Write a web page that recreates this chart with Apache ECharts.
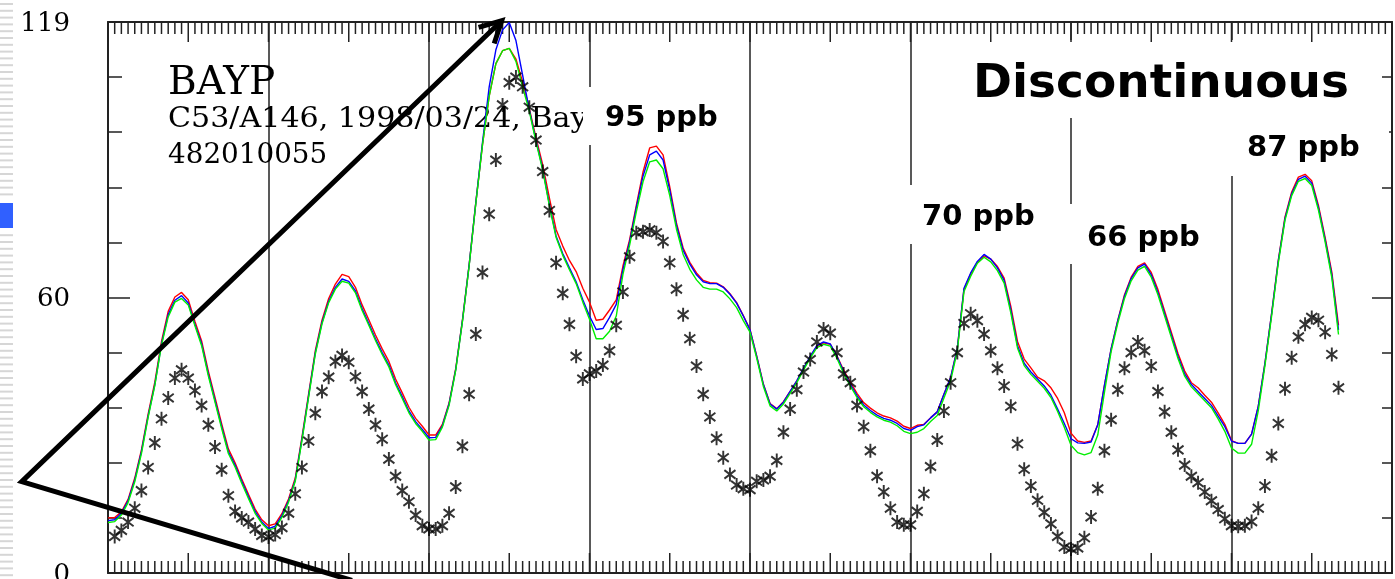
<!DOCTYPE html>
<html>
<head>
<meta charset="utf-8">
<title>BAYP ozone</title>
<script src="https://cdn.jsdelivr.net/npm/echarts@6/dist/echarts.min.js"></script>
<style>
  html, body { margin: 0; padding: 0; background: #fff; }
  #chart { width: 1395px; height: 579px; }
</style>
</head>
<body>
<div id="chart"></div>
<script>
// hourly ozone, hour 0 .. 184 of an 8-day (192 h) window
var obs = [
  null, 7.9, 9.2, 11.0, 14.0, 17.8, 22.8, 28.1, 33.3, 37.8, 42.1, 43.9, 42.1, 39.4, 36.2, 32.0, 27.2, 22.3, 16.7, 13.3, 11.9, 11.0, 9.5, 8.1,
  7.8, 8.3, 9.8, 12.9, 17.1, 22.8, 28.5, 34.5, 39.2, 42.3, 45.7, 47.0, 45.5, 42.4, 39.2, 35.4, 32.0, 28.9, 24.6, 20.9, 17.8, 15.4, 12.5, 10.2,
  9.5, 9.5, 10.2, 12.9, 18.6, 27.4, 38.6, 51.6, 64.9, 77.5, 89.2, 101.1, 105.9, 107.1, 105.0, 100.6, 93.5, 86.7, 78.3, 67.0, 60.4, 53.7, 46.8, 41.9,
  43.0, 43.6, 44.9, 48.0, 53.5, 60.7, 68.3, 73.5, 73.7, 74.1, 73.5, 71.6, 67.0, 61.3, 55.8, 50.6, 44.7, 38.6, 33.7, 29.1, 24.9, 21.3, 19.0, 18.2,
  18.0, 19.8, 20.1, 20.9, 24.3, 30.4, 35.4, 39.6, 43.4, 46.1, 49.9, 52.7, 51.8, 47.6, 43.0, 41.1, 36.2, 31.6, 26.4, 20.9, 17.5, 14.0, 11.0, 10.4,
  10.4, 13.3, 17.1, 23.0, 28.7, 35.0, 41.1, 47.6, 53.9, 56.0, 54.5, 51.6, 48.0, 44.2, 40.4, 36.0, 27.9, 22.4, 18.8, 15.7, 13.1, 10.6, 7.9, 5.6,
  5.2, 5.4, 7.6, 12.1, 18.2, 26.4, 33.1, 39.6, 44.2, 47.6, 49.9, 48.0, 44.7, 39.2, 34.8, 30.4, 26.6, 23.3, 20.9, 19.5, 17.5, 15.6, 13.7, 11.7,
  10.2, 10.1, 10.2, 11.1, 14.0, 18.8, 25.3, 32.3, 39.8, 46.5, 51.0, 53.7, 55.2, 54.6, 52.0, 47.2, 40.0
];

var modelRed = [
  11.9, 12.0, 13.2, 15.9, 20.5, 26.6, 34.3, 41.2, 50.0, 56.5, 59.6, 60.6, 59.0, 54.3, 50.1, 43.6, 37.9, 32.2, 26.8, 23.8, 20.3, 17.0, 13.8, 11.5,
  10.2, 10.6, 12.8, 16.0, 20.5, 29.3, 38.7, 48.0, 54.6, 59.3, 62.4, 64.5, 64.0, 61.7, 57.9, 54.7, 51.4, 48.4, 45.7, 41.9, 38.9, 35.8, 33.4, 31.7,
  29.8, 29.8, 32.1, 36.7, 44.2, 54.6, 66.5, 80.0, 92.5, 103.0, 110.0, 112.8, 113.3, 111.0, 106.0, 100.3, 94.0, 88.2, 81.0, 74.2, 70.6, 67.5, 65.1, 61.5,
  58.5, 54.6, 54.8, 56.8, 59.0, 66.3, 72.0, 79.4, 86.6, 91.8, 92.2, 90.3, 83.4, 75.6, 70.2, 67.1, 64.8, 63.2, 62.7, 62.6, 61.8, 60.3, 58.4, 55.6,
  52.6, 46.9, 40.8, 36.6, 35.5, 37.0, 39.2, 41.5, 44.1, 46.7, 49.0, 49.7, 49.4, 46.9, 43.8, 41.2, 38.8, 36.8, 35.6, 34.6, 33.9, 33.5, 32.8, 31.7,
  31.2, 31.9, 32.1, 33.5, 34.8, 38.6, 42.2, 48.5, 61.3, 64.6, 67.1, 68.5, 67.8, 66.2, 63.7, 57.6, 50.0, 46.2, 44.3, 42.3, 41.5, 40.0, 37.7, 34.6,
  30.2, 28.5, 28.2, 28.5, 32.0, 40.5, 48.4, 54.6, 60.1, 63.9, 66.2, 67.0, 64.9, 61.2, 56.6, 52.0, 47.4, 43.6, 41.1, 40.0, 38.4, 36.9, 34.6, 32.1,
  28.6, 28.0, 28.0, 30.0, 36.0, 45.3, 56.1, 67.6, 76.9, 82.3, 85.5, 86.1, 84.7, 79.4, 72.5, 65.0, 53.5
];

var modelBlue = [
  11.3, 11.5, 12.9, 15.6, 20.1, 26.2, 33.9, 40.7, 49.5, 55.8, 58.9, 59.9, 58.3, 53.7, 49.5, 43.0, 37.3, 31.6, 26.2, 23.3, 19.8, 16.5, 13.3, 11.0,
  9.6, 10.1, 12.4, 15.6, 20.1, 28.9, 38.3, 47.6, 54.1, 58.7, 61.7, 63.5, 63.0, 60.9, 57.1, 53.9, 50.6, 47.6, 44.9, 41.1, 38.1, 35.0, 32.7, 31.0,
  29.2, 29.3, 31.8, 36.5, 44.0, 54.5, 66.5, 80.0, 93.0, 105.0, 113.0, 117.3, 118.9, 115.0, 107.5, 100.0, 93.4, 87.3, 79.6, 72.8, 69.0, 65.9, 62.9, 59.0,
  55.5, 52.6, 52.8, 55.2, 58.0, 65.5, 71.5, 78.9, 85.7, 90.3, 91.1, 89.2, 82.7, 75.1, 69.7, 66.7, 64.4, 62.9, 62.5, 62.5, 61.7, 60.2, 58.3, 55.5,
  52.5, 46.8, 40.7, 36.5, 35.4, 36.9, 39.2, 41.5, 44.2, 46.8, 49.1, 49.9, 49.5, 46.8, 43.5, 40.8, 38.3, 36.3, 35.1, 34.1, 33.4, 33.0, 32.3, 31.2,
  30.8, 31.6, 32.0, 33.5, 34.8, 38.6, 42.2, 48.5, 61.5, 64.8, 67.3, 68.8, 67.8, 65.9, 63.2, 56.8, 49.1, 45.3, 43.4, 41.9, 40.4, 38.4, 35.4, 32.3,
  29.0, 28.1, 28.0, 28.3, 32.0, 40.5, 48.4, 54.5, 59.8, 63.6, 65.9, 66.7, 64.4, 60.6, 56.0, 51.4, 46.8, 43.0, 40.7, 39.2, 37.7, 36.2, 33.9, 31.6,
  28.5, 28.0, 28.0, 30.0, 36.0, 45.3, 56.0, 67.4, 76.6, 81.9, 85.0, 85.7, 84.2, 78.9, 72.0, 64.4, 52.5
];

var modelGreen = [
  10.9, 11.1, 12.5, 15.2, 19.7, 25.8, 33.6, 40.5, 49.2, 55.3, 58.5, 59.3, 57.9, 53.4, 49.1, 42.6, 36.9, 31.2, 25.8, 22.9, 19.4, 16.1, 12.9, 10.7,
  9.3, 9.7, 12.0, 15.3, 19.8, 28.6, 38.0, 47.3, 53.8, 58.4, 61.3, 63.0, 62.6, 60.5, 56.7, 53.5, 50.2, 47.2, 44.5, 40.7, 37.7, 34.6, 32.3, 30.6,
  28.7, 28.8, 31.5, 36.2, 43.8, 54.3, 66.3, 79.8, 92.5, 103.0, 110.0, 112.8, 113.3, 110.5, 105.0, 99.7, 93.1, 87.0, 79.3, 72.5, 68.6, 65.5, 62.5, 58.5,
  54.8, 50.6, 50.6, 52.2, 55.5, 64.5, 70.8, 78.0, 84.5, 88.8, 89.2, 87.3, 81.5, 74.3, 68.8, 65.6, 63.3, 61.7, 61.3, 61.3, 60.7, 59.2, 57.3, 54.5,
  52.0, 46.4, 40.3, 36.1, 35.0, 36.5, 38.8, 41.1, 43.8, 46.4, 48.7, 49.4, 49.0, 46.4, 43.1, 40.4, 37.9, 35.9, 34.7, 33.7, 33.0, 32.6, 31.8, 30.6,
  30.1, 30.4, 31.2, 32.7, 34.0, 37.8, 41.5, 48.0, 60.8, 64.1, 66.9, 68.2, 67.2, 65.3, 62.6, 56.2, 48.6, 44.8, 42.9, 41.4, 39.9, 37.9, 34.9, 31.5,
  27.6, 26.0, 25.5, 26.0, 29.8, 39.0, 47.8, 54.0, 59.3, 63.1, 65.4, 66.2, 63.9, 60.1, 55.5, 50.9, 46.3, 42.5, 40.2, 38.7, 37.2, 35.7, 33.3, 30.6,
  27.0, 25.9, 25.9, 27.8, 35.0, 44.8, 55.5, 67.0, 76.2, 81.5, 84.6, 85.2, 83.7, 78.4, 71.5, 63.8, 51.5
];

// y axis: 10 divisions of 0..119, labelled at bottom, middle and top
var yTickValues = [0, 59.5, 119];
var yTickLabels = ['0', '60', '119'];

// hour marks along the time axis (0 .. 192), long mark every 12 h
var hourMarks = [];
for (var h = 0; h <= 192; h++) hourMarks.push([h, 0]);

var chart = echarts.init(document.getElementById('chart'));

function pairs(arr) {
  var out = [];
  arr.forEach(function (v, i) { if (v != null) out.push([i, v]); });
  return out;
}

var ink = '#222';

function vAxis(pos, len, minorLen) {
  return {
    type: 'value', position: pos, min: 0, max: 119, interval: 59.5,
    axisLine: { show: true, onZero: false, lineStyle: { color: ink, width: 2 } },
    axisTick: { show: true, inside: true, length: len, lineStyle: { color: ink, width: 1.5 } },
    minorTick: { show: true, splitNumber: 5, length: minorLen, lineStyle: { color: ink, width: 1.5 } },
    axisLabel: { show: false },
    splitLine: { show: false }
  };
}

// hour ticks on the top and bottom frame
function renderHourTick(params, api) {
  var hr = api.value(0);
  var bottom = api.coord([hr, 0]);
  var top = api.coord([hr, 119]);
  var len = hr % 12 === 0 ? 20 : 12;
  var st = { stroke: ink, lineWidth: 1.5 };
  return {
    type: 'group',
    children: [
      { type: 'line', shape: { x1: bottom[0], y1: bottom[1], x2: bottom[0], y2: bottom[1] - len }, style: st },
      { type: 'line', shape: { x1: top[0], y1: top[1], x2: top[0], y2: top[1] + len }, style: st }
    ]
  };
}

// y tick labels, placed left of the frame
function renderYLabel(params, api) {
  var p = api.coord([0, api.value(1)]);
  return {
    type: 'text', x: p[0] - 38, y: p[1] + 2,
    style: { text: yTickLabels[params.dataIndex], font: '26px "DejaVu Serif"', fill: '#000',
             align: 'right', verticalAlign: 'middle', textAlign: 'right', textVerticalAlign: 'middle' }
  };
}

// white boxes behind the ppb notes (they hide parts of the day lines)
function box(x, y, w, h) {
  return { type: 'rect', z: 2, shape: { x: x, y: y, width: w, height: h }, style: { fill: '#fff' } };
}
function note(text, x, y, font, z, sx) {
  return {
    type: 'text', z: z, x: x, y: y, scaleX: sx || 1,
    style: { text: text, font: font, fill: '#000', align: 'left', verticalAlign: 'middle',
             textAlign: 'left', textVerticalAlign: 'middle' }
  };
}

var deco = [];
// slide edge stripes
for (var sy = 3; sy < 579; sy += 6.8) {
  if (sy > 198 && sy < 232) continue;
  deco.push({ type: 'rect', z: 1, shape: { x: 0, y: sy, width: 13, height: 2 }, style: { fill: '#d6d6d6' } });
}
deco.push({ type: 'rect', z: 1, shape: { x: 0, y: 203, width: 13, height: 25 }, style: { fill: '#3060ff' } });

var serifBig = '39px "DejaVu Serif"';
var serif = '27px "DejaVu Serif"';
var sansBold = 'bold 29px "DejaVu Sans"';

var graphics = deco.concat([
  note('BAYP', 168, 84, serifBig, 1),
  note('C53/A146, 1998/03/24, Bayland Park', 168, 120, serif, 1, 1.115),
  note('482010055', 168, 156, serif, 1, 1.03),
  box(583, 87, 154, 58),
  box(904, 185, 146, 59),
  box(1063, 204, 160, 60),
  box(1224, 118, 165, 58),
  box(962, 40, 410, 78),
  note('95 ppb', 605, 118, sansBold, 3),
  note('70 ppb', 922, 217, sansBold, 3),
  note('66 ppb', 1087, 238, sansBold, 3),
  note('87 ppb', 1247, 148, sansBold, 3),
  note('Discontinuous', 973, 85, 'bold 47px "DejaVu Sans"', 3),
  // thick pointer arrows
  { type: 'polyline', z: 10, shape: { points: [[501.7, 20.7], [21.7, 481.7], [352, 580.5]] },
    style: { stroke: '#000', lineWidth: 5, fill: null, lineJoin: 'miter' } },
  { type: 'polyline', z: 10, shape: { points: [[478.6, 27.3], [501.7, 20.7], [494.2, 43.5]] },
    style: { stroke: '#000', lineWidth: 5, fill: null, lineJoin: 'miter' } }
]);

var asterisk = 'path://M0,-10L0,10M-8.5,-6L8.5,6M-8.5,6L8.5,-6';

var option = {
  animation: false,
  backgroundColor: '#fff',
  grid: { left: 108, right: 3, top: 22, bottom: 6 },
  xAxis: [
    {
      type: 'value', position: 'bottom', min: 0, max: 192, interval: 24,
      axisLine: { show: true, onZero: false, lineStyle: { color: ink, width: 2 } },
      axisTick: { show: false }, axisLabel: { show: false },
      splitLine: { show: true, lineStyle: { color: ink, width: 1.5 } }
    },
    {
      type: 'value', position: 'top', min: 0, max: 192, interval: 24,
      axisLine: { show: true, onZero: false, lineStyle: { color: ink, width: 2 } },
      axisTick: { show: false }, axisLabel: { show: false }, splitLine: { show: false }
    }
  ],
  yAxis: [
    vAxis('left', 22, 14),
    vAxis('right', 20, 10)
  ],
  graphic: graphics,
  series: [
    { type: 'custom', z: 3, clip: false, silent: true, data: hourMarks, renderItem: renderHourTick },
    { type: 'custom', z: 3, clip: false, silent: true,
      data: yTickValues.map(function (v) { return [0, v]; }), renderItem: renderYLabel },
    { type: 'line', z: 4, data: pairs(modelRed), showSymbol: false, lineStyle: { color: '#ff0000', width: 1.4 } },
    { type: 'line', z: 4, data: pairs(modelBlue), showSymbol: false, lineStyle: { color: '#0000ff', width: 1.4 } },
    { type: 'line', z: 4, data: pairs(modelGreen), showSymbol: false, lineStyle: { color: '#00ee00', width: 1.4 } },
    {
      type: 'scatter', z: 5, data: pairs(obs),
      symbol: asterisk, symbolSize: [13, 14], symbolKeepAspect: true,
      itemStyle: { color: '#000', borderColor: '#000', borderWidth: 2 }
    }
  ]
};

chart.setOption(option);
</script>
</body>
</html>
